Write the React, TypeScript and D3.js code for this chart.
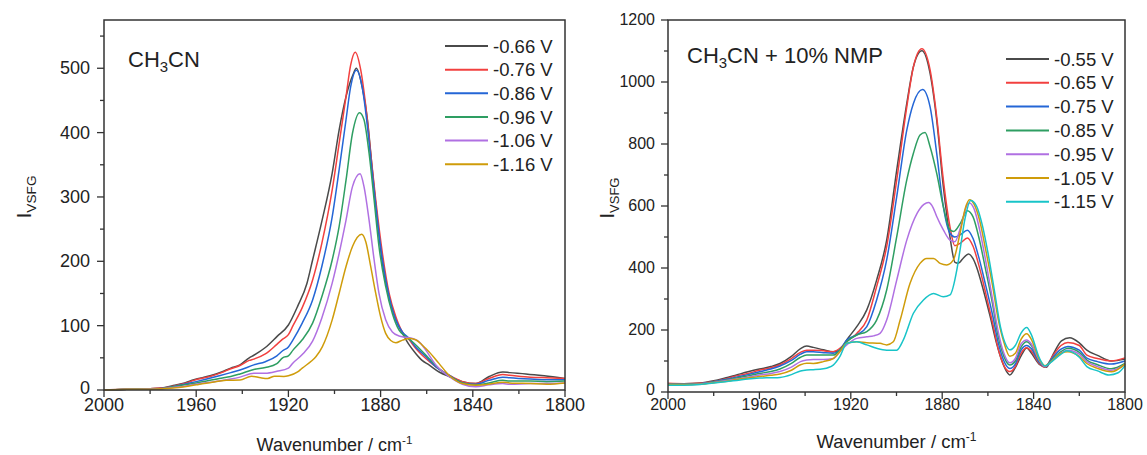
import React from 'react';
import * as d3 from 'd3';

type Pt = [number, number];

// line colours, one per potential
const seriesColors = ['#4a4a4a', '#f2403f', '#2466d6', '#2e9e62', '#b070e2', '#cf9c0a', '#18c4c8'];

const acnLabels = ['-0.66 V', '-0.76 V', '-0.86 V', '-0.96 V', '-1.06 V', '-1.16 V'];
const nmpLabels = ['-0.55 V', '-0.65 V', '-0.75 V', '-0.85 V', '-0.95 V', '-1.05 V', '-1.15 V'];

const xMajor = [2000, 1960, 1920, 1880, 1840, 1800];
const xMinor = [1980, 1940, 1900, 1860, 1820];
const acnYMajor = [0, 100, 200, 300, 400, 500];
const acnYMinor = [50, 150, 250, 350, 450, 550];
const nmpYMajor = [0, 200, 400, 600, 800, 1000, 1200];
const nmpYMinor = [100, 300, 500, 700, 900, 1100];

// CH3CN spectra  [wavenumber, intensity]
const acn066: Pt[] = [[2000,0],[1990,1],[1980,2],[1975,3],[1970,7],[1965,11],[1961,16],[1954,22],[1949,28],[1945,34],[1941,39],[1937,50],[1935,54],[1930,66],[1925,83],[1920,101],[1916,130],[1912,165],[1909.5,202],[1905.5,262],[1901,337],[1898,404],[1895,456],[1892,490],[1890.5,500],[1888,471],[1885.7,420],[1883.6,342],[1881.4,264],[1879.2,197],[1876.3,145],[1873.4,109],[1870.5,88],[1867.6,70],[1864.8,57],[1862,46],[1859,39],[1854.6,28],[1850.3,21],[1844.5,13],[1838.7,10],[1832.9,21],[1827,28],[1824,27],[1817,25],[1809,22],[1800,18]];
const acn076: Pt[] = [[2000,0],[1990,1],[1980,2],[1975,3],[1970,6],[1965,10],[1961,15],[1954,21],[1949,27],[1945,33],[1941,38],[1937,46],[1935,48],[1930,56],[1925,71],[1922.5,79],[1920,86],[1918,100],[1914,128],[1909.5,171],[1905.5,228],[1901,311],[1898,383],[1895,456],[1893,505],[1891,525],[1888.6,497],[1886.4,440],[1884.3,368],[1882.1,295],[1879.2,212],[1876.3,150],[1873.4,114],[1870.5,90],[1867.6,78],[1864.8,65],[1860.4,49],[1856,36],[1850.3,23],[1844.5,13],[1838.7,10],[1833,18],[1827,24],[1824,23],[1815,20],[1808,19],[1800,18]];
const acn086: Pt[] = [[2000,0],[1990,1],[1980,2],[1975,2.5],[1970,5],[1965,9],[1960,13],[1950,22],[1945,27],[1941,31],[1935,39],[1930,44],[1925,53],[1922.5,61],[1920,67],[1918,78],[1914,104],[1909.5,140],[1905.5,192],[1901,269],[1898,342],[1895,420],[1893,471],[1890.5,497],[1887.9,469],[1885.7,409],[1883.6,337],[1881.4,264],[1879.2,202],[1876.3,145],[1873.4,109],[1870.5,90],[1867.6,80],[1864.8,67],[1860.4,52],[1856,36],[1850.3,23],[1844.5,11],[1838.7,9],[1833,15],[1827,20],[1824,19],[1815,17],[1808,16],[1800,16]];
const acn096: Pt[] = [[2000,0],[1990,1],[1980,2],[1975,2],[1970,5],[1965,8],[1960,11],[1950,18],[1945,21],[1941,25],[1935,32],[1930,35],[1925,41],[1922.5,50],[1920,53],[1918,62],[1914,78],[1909.5,104],[1905.5,145],[1901,202],[1898,254],[1895,326],[1892.2,399],[1889.1,431],[1887.2,420],[1885,368],[1882.8,295],[1880.7,223],[1877.8,161],[1874.9,119],[1872,93],[1869.1,83],[1866.2,75],[1863.3,65],[1859,49],[1854.6,33],[1850.3,22],[1844.5,11],[1838.7,8],[1833,11],[1827,15],[1824,14],[1815,14],[1808,13],[1800,14]];
const acn106: Pt[] = [[2000,0],[1990,1],[1980,1.5],[1975,2],[1970,4],[1965,6],[1960,9],[1950,14],[1945,17],[1941,20],[1935,26],[1930,26],[1925,29],[1920,34],[1918,42],[1914,55],[1909.5,76],[1905.5,112],[1901,166],[1898,212],[1895,264],[1892.2,316],[1888.9,336],[1887.2,316],[1885,264],[1882.8,202],[1880.7,150],[1877.8,109],[1874.9,90],[1872,84],[1869.1,82],[1866.2,80],[1863.3,75],[1860.4,62],[1856,39],[1850.3,21],[1844.5,9],[1838.7,5],[1833,8],[1827,10],[1824,9],[1815,10],[1808,10],[1800,11]];
const acn116: Pt[] = [[2000,0],[1990,1],[1980,1],[1975,2],[1970,3],[1965,5],[1960,8],[1953,12],[1947,15],[1941,15.5],[1936,21.5],[1932,19],[1929,18],[1926,21.5],[1922,21],[1920,22],[1916,28],[1914,34],[1910,45],[1908,52],[1905.3,67],[1901,109],[1898,150],[1895,192],[1892.2,223],[1888.2,242],[1886.4,230],[1884.3,192],[1882.1,150],[1880,114],[1877.8,88],[1875.6,77],[1873.4,73.5],[1870.5,77.5],[1867.6,80],[1864.8,78],[1862,70],[1859,59.5],[1854.6,41],[1850.3,23],[1844.5,10],[1838.7,7.5],[1833,9],[1827,12],[1824,11],[1815,10],[1808,9],[1800,11]];

// CH3CN + 10% NMP spectra
const nmp055: Pt[] = [[2000,27],[1993,27],[1986,29],[1980,36],[1975,45],[1970,55],[1965,65],[1960,74],[1955,82],[1951,92],[1946,115],[1942,140],[1939.3,148],[1936.4,144],[1932,136],[1927.7,130],[1924.8,135],[1921.8,168],[1917.4,211],[1913,265],[1908.7,361],[1904.3,490],[1899.9,716],[1895.5,931],[1892.6,1049],[1888.9,1101],[1885.3,1028],[1882.4,877],[1879.5,662],[1876.6,500],[1874.4,418],[1873,415],[1871,430],[1868.5,445],[1866.5,430],[1865,404],[1862,329],[1859,243],[1856.2,157],[1854,103],[1851.8,66],[1850.4,55],[1848.2,76],[1845.3,119],[1843,142],[1840.9,125],[1837.3,88],[1834.4,80],[1831.4,122],[1827.8,165],[1824.2,175],[1819.8,157],[1816.7,135],[1812,118],[1806,100],[1800,106]];
const nmp065: Pt[] = [[2000,28],[1993,27],[1986,28],[1980,34],[1975,42],[1970,52],[1965,60],[1960,70],[1955,78],[1951,88],[1946,108],[1942,128],[1939.3,135],[1936.4,135],[1932,133],[1927.7,130],[1924.8,141],[1921.8,162],[1917.4,189],[1913,232],[1908.7,340],[1904.3,469],[1899.9,684],[1895.5,920],[1892.6,1049],[1888.9,1107],[1885.3,1039],[1882.4,888],[1879.5,684],[1876.6,533],[1874.5,472],[1872,480],[1869,497],[1866.5,470],[1864,410],[1861,320],[1858,225],[1855.5,140],[1853,85],[1850.4,66],[1848,82],[1845.5,125],[1843,143],[1841,132],[1837.5,92],[1835,80],[1832,112],[1828,150],[1825,160],[1820,150],[1816.7,119],[1812,108],[1806,100],[1800,110]];
const nmp075: Pt[] = [[2000,25],[1993,26],[1986,27],[1980,33],[1975,40],[1970,48],[1965,56],[1960,65],[1955,74],[1951,84],[1946,102],[1942,122],[1939.3,130],[1936.4,130],[1932,127],[1927.7,125],[1924.8,135],[1921.8,168],[1917.4,184],[1913,211],[1908.7,297],[1904.3,426],[1899.9,630],[1895.5,845],[1892.6,931],[1888.6,976],[1885.3,920],[1882.4,770],[1879.5,598],[1876.6,512],[1874.5,500],[1872,508],[1869,522],[1866.5,495],[1864,435],[1861,345],[1858,250],[1855.5,160],[1853,100],[1850.4,76],[1848,90],[1845.5,135],[1843,150],[1841,140],[1837.5,95],[1835,82],[1832,108],[1828,138],[1825,147],[1820,135],[1816.7,109],[1812,98],[1806,90],[1800,100]];
const nmp085: Pt[] = [[2000,25],[1993,25],[1986,26],[1980,32],[1975,38],[1970,45],[1965,52],[1960,60],[1955,66],[1951,74],[1946,92],[1942,112],[1939.3,119],[1936.4,119],[1932,119],[1927.7,119],[1924.8,135],[1921.8,162],[1917.4,184],[1913,195],[1908.7,232],[1904.3,329],[1899.9,501],[1895.5,684],[1892.6,770],[1889.7,829],[1887.5,837],[1885.3,791],[1882.4,705],[1879.5,598],[1876.6,523],[1875,518],[1872,545],[1869,585],[1866.5,565],[1864,500],[1861,395],[1858,285],[1855.5,180],[1853,115],[1850.4,87],[1848,100],[1845.5,145],[1843,162],[1841,150],[1837.5,100],[1835,82],[1832,104],[1828,130],[1825,141],[1820,128],[1816.7,103],[1812,88],[1806,75],[1800,92]];
const nmp095: Pt[] = [[2000,24],[1993,24],[1986,26],[1980,31],[1975,36],[1970,42],[1965,48],[1960,55],[1955,60],[1951,66],[1946,80],[1942,98],[1939.3,103],[1936.4,105],[1932,105],[1927.7,108],[1924.8,130],[1921.8,152],[1917.4,173],[1913,178],[1910,181],[1907.2,189],[1904.3,232],[1899.9,361],[1895.5,490],[1891,576],[1888,605],[1886,611],[1884,595],[1882.4,566],[1879.5,523],[1876.6,490],[1874.5,485],[1872,530],[1869,605],[1868,610],[1866,590],[1863.5,520],[1861,425],[1858,300],[1855.5,195],[1853,125],[1850.4,94],[1848,108],[1845.5,155],[1843,168],[1841,155],[1837.5,102],[1835,82],[1832,100],[1828,126],[1825,135],[1820,122],[1816.7,98],[1812,82],[1806,70],[1800,88]];
const nmp105: Pt[] = [[2000,24],[1993,24],[1986,25],[1980,30],[1975,34],[1970,40],[1965,45],[1960,50],[1955,54],[1951,58],[1946,70],[1942,88],[1939.3,93],[1936.4,92],[1932,98],[1927.7,108],[1924.8,130],[1921.8,157],[1917.4,162],[1913,159],[1907.2,157],[1904.3,152],[1901.4,162],[1898.4,232],[1894.1,350],[1889.7,415],[1886.8,431],[1883.8,431],[1880.9,415],[1878,410],[1875.1,426],[1872.2,512],[1870,590],[1868,620],[1866,605],[1863.5,550],[1861,460],[1858,345],[1855.5,235],[1853,160],[1850.4,115],[1848,125],[1845.5,170],[1843,188],[1841,170],[1837.5,105],[1835,85],[1832,100],[1828,125],[1825,130],[1820,115],[1816.7,92],[1812,76],[1806,65],[1800,90]];
const nmp115: Pt[] = [[2000,22],[1993,22],[1986,24],[1980,29],[1975,33],[1970,37],[1965,42],[1960,45],[1955,46],[1951,47],[1946,56],[1942,68],[1939.3,71],[1936.4,72],[1932,75],[1927.7,87],[1924.8,114],[1921.8,157],[1917.4,162],[1913,152],[1908.7,141],[1904.3,135],[1899.9,135],[1897,168],[1892.6,254],[1888.2,297],[1883.8,318],[1879.5,307],[1876.6,313],[1873.6,394],[1872.2,458],[1870,560],[1867.5,618],[1865,600],[1862.5,540],[1860,450],[1857,320],[1854.5,210],[1852,150],[1850.4,136],[1848,150],[1845.5,190],[1843,208],[1841,185],[1837.5,110],[1835,84],[1832,98],[1828,122],[1825.5,133],[1820,112],[1816.7,82],[1812,68],[1807,55],[1803,62],[1800,85]];

const FONT = '"Liberation Sans", Arial, sans-serif';

type PanelProps = {
  series: Pt[][];
  labels: string[];
  yMax: number;
  yMajor: number[];
  yMinor: number[];
  left: number; right: number; top: number; bottom: number;
  tickFont: number;
  xLabelY: number;
  yLabelX: number;
  titleX: number; titleY: number; titleFont: number;
  title: string;
  axisTitleY: number; axisFont: number;
  yTitleX: number; yTitleFont: number;
  legX: number; legY: number; legStep: number; legFont: number;
};

function Panel(p: PanelProps) {
  const x = d3.scaleLinear().domain([2000, 1800]).range([p.left, p.right]);
  const y = d3.scaleLinear().domain([0, p.yMax]).range([p.bottom, p.top]);
  const line = d3.line<Pt>().x(d => x(d[0])).y(d => y(d[1])).curve(d3.curveMonotoneX);
  const cx = (p.left + p.right) / 2;
  const cy = (p.top + p.bottom) / 2 - 8;
  const ink = '#222';

  return (
    <g fontFamily={FONT} fill={ink}>
      {/* curves */}
      {p.series.map((s, i) => (
        <path key={i} d={line(s) || ''} fill="none" stroke={seriesColors[i]} strokeWidth={1.5} />
      ))}

      {/* frame */}
      <rect x={p.left} y={p.top} width={p.right - p.left} height={p.bottom - p.top}
        fill="none" stroke="#333" strokeWidth={1.5} />

      {/* x ticks */}
      {xMajor.map(t => (
        <g key={'xm' + t}>
          <line x1={x(t)} x2={x(t)} y1={p.bottom} y2={p.bottom + 7} stroke="#333" strokeWidth={1.3} />
          <text x={x(t)} y={p.xLabelY} fontSize={p.tickFont} textAnchor="middle">{t}</text>
        </g>
      ))}
      {xMinor.map(t => (
        <line key={'xn' + t} x1={x(t)} x2={x(t)} y1={p.bottom} y2={p.bottom + 4} stroke="#333" strokeWidth={1.3} />
      ))}

      {/* y ticks */}
      {p.yMajor.map(t => (
        <g key={'ym' + t}>
          <line x1={p.left - 7} x2={p.left} y1={y(t)} y2={y(t)} stroke="#333" strokeWidth={1.3} />
          <text x={p.yLabelX} y={y(t) - (t === 0 ? 2 : 0)} dy="0.34em" fontSize={p.tickFont} textAnchor="end">{t}</text>
        </g>
      ))}
      {p.yMinor.map(t => (
        <line key={'yn' + t} x1={p.left - 4} x2={p.left} y1={y(t)} y2={y(t)} stroke="#333" strokeWidth={1.3} />
      ))}

      {/* axis titles */}
      <text x={cx} y={p.axisTitleY} fontSize={p.axisFont} textAnchor="middle">
        Wavenumber / cm<tspan dy={-7} fontSize={p.axisFont * 0.65}>-1</tspan>
      </text>
      <text transform={`translate(${p.yTitleX},${cy}) rotate(-90)`} fontSize={p.yTitleFont} textAnchor="middle">
        I<tspan dy={5} fontSize={p.yTitleFont * 0.65}>VSFG</tspan>
      </text>

      {/* panel title */}
      <text x={p.titleX} y={p.titleY} fontSize={p.titleFont}>
        CH<tspan dy={5} fontSize={p.titleFont * 0.68}>3</tspan><tspan dy={-5}>{p.title}</tspan>
      </text>

      {/* legend */}
      {p.labels.map((lab, i) => {
        const ly = p.legY + i * p.legStep;
        return (
          <g key={lab}>
            <line x1={p.legX} x2={p.legX + 43} y1={ly} y2={ly} stroke={seriesColors[i]} strokeWidth={2} />
            <text x={p.legX + 48} y={ly} dy="0.36em" fontSize={p.legFont}>{lab}</text>
          </g>
        );
      })}
    </g>
  );
}

export default function App() {
  return (
    <svg width={1147} height={455} style={{ position: 'absolute', left: 0, top: 0, background: '#fff' }}>
      <rect width={1147} height={455} fill="#fff" />
      <Panel
        series={[acn066, acn076, acn086, acn096, acn106, acn116]}
        labels={acnLabels}
        yMax={575} yMajor={acnYMajor} yMinor={acnYMinor}
        left={104} right={565} top={20} bottom={390}
        tickFont={18} xLabelY={411} yLabelX={90}
        titleX={128} titleY={67} titleFont={22} title="CN"
        axisTitleY={451} axisFont={18}
        yTitleX={31} yTitleFont={21}
        legX={445} legY={46} legStep={23.65} legFont={18.5}
      />
      <Panel
        series={[nmp055, nmp065, nmp075, nmp085, nmp095, nmp105, nmp115]}
        labels={nmpLabels}
        yMax={1200} yMajor={nmpYMajor} yMinor={nmpYMinor}
        left={668} right={1125} top={20} bottom={392}
        tickFont={16} xLabelY={410} yLabelX={655}
        titleX={687} titleY={63} titleFont={22} title="CN + 10% NMP"
        axisTitleY={448} axisFont={18.5}
        yTitleX={614} yTitleFont={20}
        legX={1006} legY={59} legStep={23.8} legFont={18.5}
      />
    </svg>
  );
}
